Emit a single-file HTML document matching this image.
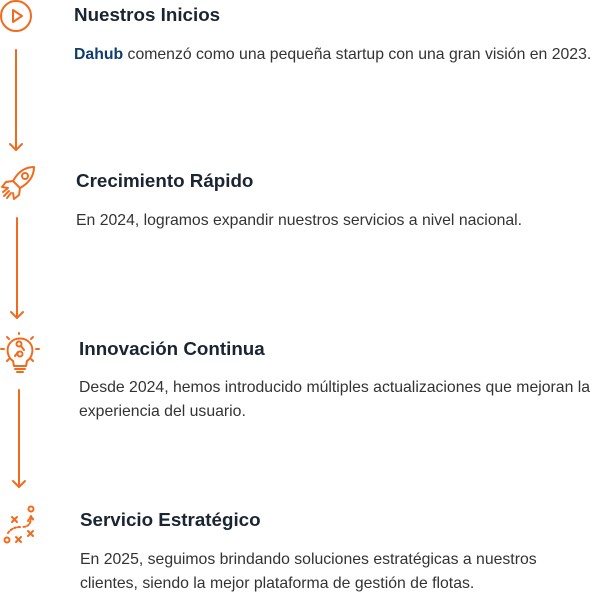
<!DOCTYPE html>
<html><head><meta charset="utf-8"><style>
body{margin:0;width:600px;height:597px;background:#fff;position:relative;font-family:"Liberation Sans",sans-serif;overflow:hidden}
.t{position:absolute;font-size:18.8px;font-weight:bold;color:#1b2432;white-space:nowrap}
.p{position:absolute;font-size:15.8px;color:#333;line-height:24px}
svg{position:absolute;left:0;top:0}
</style></head><body>
<svg width="600" height="597" fill="none" stroke="#f26b1d" stroke-width="2" stroke-linecap="round" stroke-linejoin="round">
<circle cx="16" cy="16" r="15"/>
<path d="M13 10 L22 16 L13 22 Z"/>
<line x1="16" y1="50" x2="16" y2="150"/><path d="M10 144 L16 150 L22 144"/>
<path d="M34 167 C25 167 18 172 13 181 L20 188 C29 183 34 176 34 167 Z"/><circle cx="25" cy="176" r="3"/>
<path d="M13 181 L6 182 L2 187 L8 188"/><path d="M20 188 L19 195 L14 199 L13 193"/>
<path d="M9 191 L4 196 M11 193 L7 198 M7 189 L3 192"/>
<line x1="17" y1="218" x2="17" y2="318"/><path d="M11 312 L17 318 L23 312"/>
<path d="M13 361 C7 357 6 348 10 343 C15 337 25 337 30 343 C34 348 33 357 27 361 L26 366 L14 366 Z"/>
<path d="M15 369 L25 369 M17 372 L23 372"/>
<circle cx="19" cy="344" r="2.5"/><circle cx="20" cy="354" r="2.5"/><path d="M21 346 L24 350 M18 352 L15 356"/>
<path d="M1 349 L4 349 M36 349 L39 349 M7 337 L9 339 M33 337 L31 339 M19 333 L19 334 M7 361 L9 359 M33 361 L31 359"/>
<line x1="19" y1="390" x2="19" y2="487"/><path d="M13 481 L19 487 L25 481"/>
<circle cx="31" cy="509" r="2.5"/><path d="M28 521 L31 516 L34 521 M31 517 C31 524 28 527 22 527 M20 527 C14 527 10 530 8 533" stroke-dasharray="2 2"/>
<circle cx="7" cy="540" r="2.5"/>
<path d="M12 517 L17 522 M17 517 L12 522 M16 537 L21 542 M21 537 L16 542 M28 531 L33 536 M33 531 L28 536"/>
</svg>
<div class="t" style="left:74px;top:4px">Nuestros Inicios</div>
<div class="p" style="left:74px;top:43px;white-space:nowrap"><b style="color:#0f3d6e">Dahub</b> comenzó como una pequeña startup con una gran visión en 2023.</div>
<div class="t" style="left:76px;top:170px">Crecimiento Rápido</div>
<div class="p" style="left:76px;top:209px;white-space:nowrap">En 2024, logramos expandir nuestros servicios a nivel nacional.</div>
<div class="t" style="left:79px;top:338px">Innovación Continua</div>
<div class="p" style="left:79px;top:376px;width:530px">Desde 2024, hemos introducido múltiples actualizaciones que mejoran la experiencia del usuario.</div>
<div class="t" style="left:80px;top:509px">Servicio Estratégico</div>
<div class="p" style="left:80px;top:548px;width:475px">En 2025, seguimos brindando soluciones estratégicas a nuestros clientes, siendo la mejor plataforma de gestión de flotas.</div>
</body></html>
